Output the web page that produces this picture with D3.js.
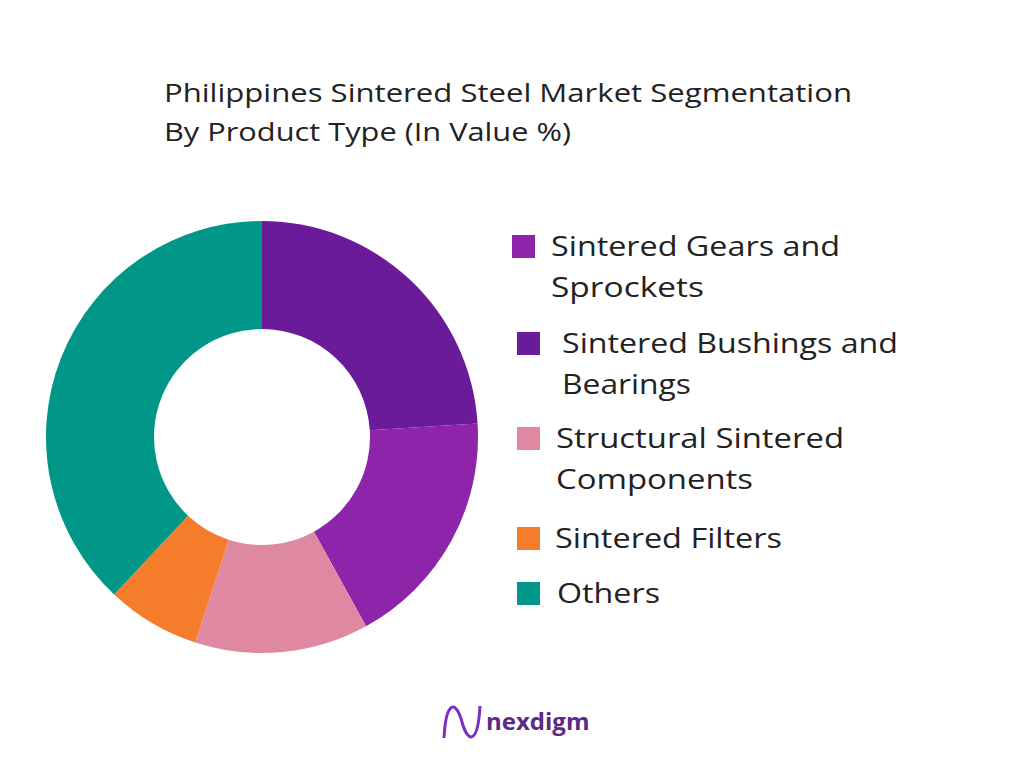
<!DOCTYPE html>
<html><head><meta charset="utf-8">
<script src="https://cdn.jsdelivr.net/npm/d3@7/dist/d3.min.js"></script>
<style>body{margin:0;background:#fff}</style></head>
<body><svg id="c" width="1024" height="768"></svg>
<script>
const pieOrder = ["Sintered Bushings and Bearings","Sintered Gears and Sprockets","Structural Sintered Components","Sintered Filters","Others"];
const pieValues = [24,18,13,7,38];
const pieColors = ["#6A1B9A","#8E24AA","#DF88A2","#F57C2A","#009688"];
const legendLabels = [["Sintered Gears and","Sprockets"],["Sintered Bushings and","Bearings"],["Structural Sintered","Components"],["Sintered Filters"],["Others"]];
const legendColors = ["#8E24AA","#6A1B9A","#DF88A2","#F57C2A","#009688"];
const legendWidths = [[289,153],[336,129],[288,197],[227],[103]];

const svg = d3.select("#c");
const font = "'Open Sans', sans-serif";
svg.append("text").attr("x",164).attr("y",102).attr("font-family",font).attr("font-size",26).attr("fill","#222").attr("textLength",688).attr("lengthAdjust","spacingAndGlyphs").text("Philippines Sintered Steel Market Segmentation");
svg.append("text").attr("x",164).attr("y",141).attr("font-family",font).attr("font-size",26).attr("fill","#222").attr("textLength",407).attr("lengthAdjust","spacingAndGlyphs").text("By Product Type (In Value %)");

const pie = d3.pie().sort(null).value(d=>d)(pieValues);
const arc = d3.arc().innerRadius(108).outerRadius(216);
const g = svg.append("g").attr("transform","translate(262,437)");
g.selectAll("path").data(pie).join("path").attr("d",arc).attr("fill",(d,i)=>pieColors[i]);

const lx=[512,517,517,517,517], tx=[551,562,556,555,557], ly=[246,343,438,538,593];
legendLabels.forEach((lines,i)=>{
  svg.append("rect").attr("x",lx[i]).attr("y",ly[i]-11).attr("width",23).attr("height",23).attr("fill",legendColors[i]);
  lines.forEach((t,j)=>svg.append("text").attr("x",tx[i]).attr("y",ly[i]+10+j*41).attr("font-family",font).attr("font-size",27).attr("fill","#222").attr("textLength",legendWidths[i][j]).attr("lengthAdjust","spacingAndGlyphs").text(t));
});

svg.append("path").attr("d","M444,738 C446,700 456,700 462,722 C468,744 478,744 480,706").attr("fill","none").attr("stroke","#7B2FBE").attr("stroke-width",3);
svg.append("text").attr("x",486).attr("y",730).attr("font-family",font).attr("font-weight",700).attr("font-size",24).attr("fill","#5B2A86").text("nexdigm");
</script></body></html>
